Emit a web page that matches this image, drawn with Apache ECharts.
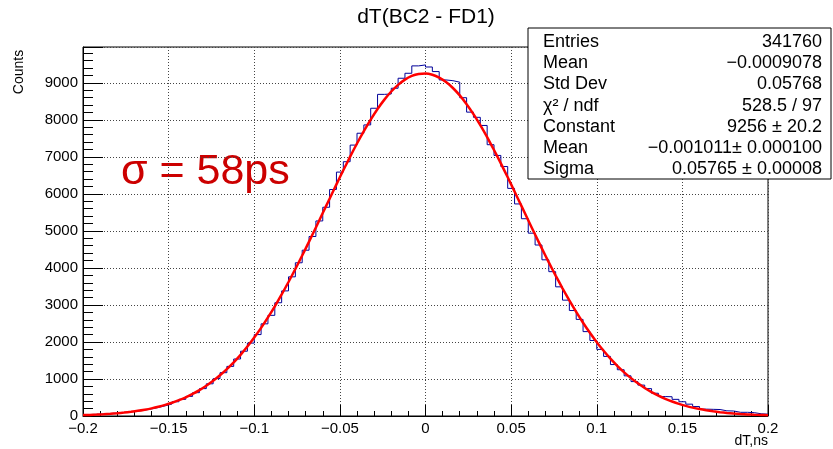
<!DOCTYPE html>
<html>
<head>
<meta charset="utf-8">
<script src="https://cdn.jsdelivr.net/npm/echarts@6/dist/echarts.min.js"></script>
<style>
  html, body { margin: 0; padding: 0; background: #fff; }
  #chart { width: 833px; height: 449px; }
</style>
</head>
<body>
<div id="chart"></div>
<script>
// dT(BC2 - FD1) histogram: 100 bins from -0.2 to 0.2 ns
var binStart = -0.2;
var binWidth = 0.004;

var counts = [
    40, 45, 55, 65, 80, 95, 110, 135, 160, 190,
    230, 275, 325, 385, 450, 530, 630, 740, 870, 1010,
    1170, 1340, 1540, 1750, 1970, 2200, 2490, 2720, 3060, 3380,
    3760, 4140, 4480, 4850, 5270, 5640, 6120, 6590, 6870, 7320,
    7640, 7865, 8315, 8690, 8700, 8856, 9126, 9260, 9460, 9486,
    9430, 9306, 9080, 9060, 9020, 8600, 8210, 8070, 7850, 7330,
    7040, 6740, 6150, 5730, 5330, 4940, 4620, 4220, 3900, 3490,
    3130, 2850, 2610, 2280, 2040, 1800, 1610, 1390, 1250, 1085,
    930, 835, 740, 615, 525, 520, 450, 385, 320, 255,
    185, 180, 175, 140, 135, 100, 100, 90, 60, 50
];

// gaussian fit, read at the bin edges (101 points)
var fitValues = [
    24, 30, 38, 48, 60, 75, 92, 114, 139, 170,
    206, 249, 300, 359, 427, 506, 597, 700, 818, 951,
    1100, 1266, 1450, 1653, 1876, 2119, 2381, 2663, 2964, 3283,
    3620, 3971, 4336, 4711, 5095, 5483, 5872, 6259, 6639, 7008,
    7363, 7698, 8010, 8295, 8548, 8767, 8948, 9089, 9188, 9243,
    9255, 9221, 9144, 9024, 8862, 8662, 8425, 8156, 7857, 7533,
    7188, 6825, 6450, 6066, 5677, 5288, 4902, 4522, 4152, 3794,
    3450, 3122, 2811, 2520, 2247, 1995, 1762, 1549, 1356, 1180,
    1023, 882, 757, 647, 550, 465, 392, 328, 274, 227,
    187, 154, 126, 103, 83, 67, 54, 43, 34, 27,
    21
];

var statNames = ['Entries', 'Mean', 'Std Dev', 'χ² / ndf', 'Constant', 'Mean', 'Sigma'];
var statValues = ['341760', '\u22120.0009078', '0.05768', '528.5 / 97', '9256 \u00b1 20.2', '\u22120.001011\u00b1 0.000100', '0.05765 \u00b1 0.00008'];

var FONT = '"Liberation Sans", Arial, sans-serif';

var histData = counts.map(function(c, i) {
    return [binStart + i * binWidth, c];
});
histData.push([binStart + counts.length * binWidth, counts[counts.length - 1]]);

var fitData = fitValues.map(function(v, j) {
    return [binStart + j * binWidth, v];
});

// stats box
var statsGraphics = [{
    type: 'rect',
    shape: { x: 528, y: 28, width: 303, height: 151 },
    style: { fill: '#fff', stroke: '#000', lineWidth: 1 },
    z: 10
}];
statNames.forEach(function(name, i) {
    var y = 42 + i * 21.2;
    statsGraphics.push({
        type: 'text', x: 543, y: y, z: 11,
        style: { text: name, font: '18px ' + FONT, fill: '#000', textAlign: 'left', textVerticalAlign: 'middle' }
    });
    statsGraphics.push({
        type: 'text', x: 822, y: y, z: 11,
        style: { text: statValues[i], font: '18px ' + FONT, fill: '#000', textAlign: 'right', textVerticalAlign: 'middle' }
    });
});

var chart = echarts.init(document.getElementById('chart'), null, { renderer: 'canvas' });

chart.setOption({
    backgroundColor: '#fff',
    animation: false,
    grid: {
        left: 83, right: 65, top: 47, bottom: 33,
        show: true, borderColor: '#000', borderWidth: 1, backgroundColor: 'transparent'
    },
    xAxis: {
        type: 'value',
        min: -0.2,
        max: 0.2,
        interval: 0.05,
        axisLine: { onZero: false, lineStyle: { color: '#000', width: 1 } },
        axisTick: { inside: true, length: 11, lineStyle: { color: '#000' } },
        minorTick: { show: true, splitNumber: 5, length: 5, lineStyle: { color: '#000' } },
        splitLine: { show: true, lineStyle: { color: '#444', type: [1, 2], width: 1 } },
        axisLabel: {
            color: '#000', fontSize: 15, fontFamily: FONT, margin: 5,
            formatter: function(v) {
                if (Math.abs(v) < 1e-9) return '0';
                return String(+v.toFixed(2)).replace('-', '\u2212');
            }
        }
    },
    yAxis: {
        type: 'value',
        min: 0,
        max: 9970,
        interval: 1000,
        axisLine: { show: true, onZero: false, lineStyle: { color: '#000', width: 1 } },
        axisTick: { inside: true, length: 20, lineStyle: { color: '#000' } },
        minorTick: { show: true, splitNumber: 5, length: 10, lineStyle: { color: '#000' } },
        splitLine: { show: true, lineStyle: { color: '#444', type: [1, 2], width: 1 } },
        axisLabel: {
            color: '#000', fontSize: 15, fontFamily: FONT, margin: 5,
            formatter: function(v) {
                return v % 1000 === 0 ? String(v) : '';
            }
        }
    },
    series: [{
        name: 'dT',
        type: 'line',
        step: 'end',
        data: histData,
        symbol: 'none',
        lineStyle: { color: '#000099', width: 1 },
        z: 2
    }, {
        name: 'gaus',
        type: 'line',
        data: fitData,
        smooth: 0.2,
        symbol: 'none',
        lineStyle: { color: '#ff0000', width: 2.5 },
        z: 3
    }],
    graphic: [
        {
            type: 'text', x: 426, y: 17,
            style: { text: 'dT(BC2 - FD1)', font: '21px ' + FONT, fill: '#000', textAlign: 'center', textVerticalAlign: 'middle' }
        },
        {
            type: 'text', x: 19, y: 72, rotation: Math.PI / 2,
            style: { text: 'Counts', font: '14px ' + FONT, fill: '#000', textAlign: 'center', textVerticalAlign: 'middle' }
        },
        {
            type: 'text', x: 768, y: 441,
            style: { text: 'dT,ns', font: '14px ' + FONT, fill: '#000', textAlign: 'right', textVerticalAlign: 'middle' }
        },
        {
            type: 'text', x: 121, y: 172,
            style: { text: 'σ = 58ps', font: '43px ' + FONT, fill: '#cc0000', textAlign: 'left', textVerticalAlign: 'middle' }
        }
    ].concat(statsGraphics)
});
</script>
</body>
</html>
